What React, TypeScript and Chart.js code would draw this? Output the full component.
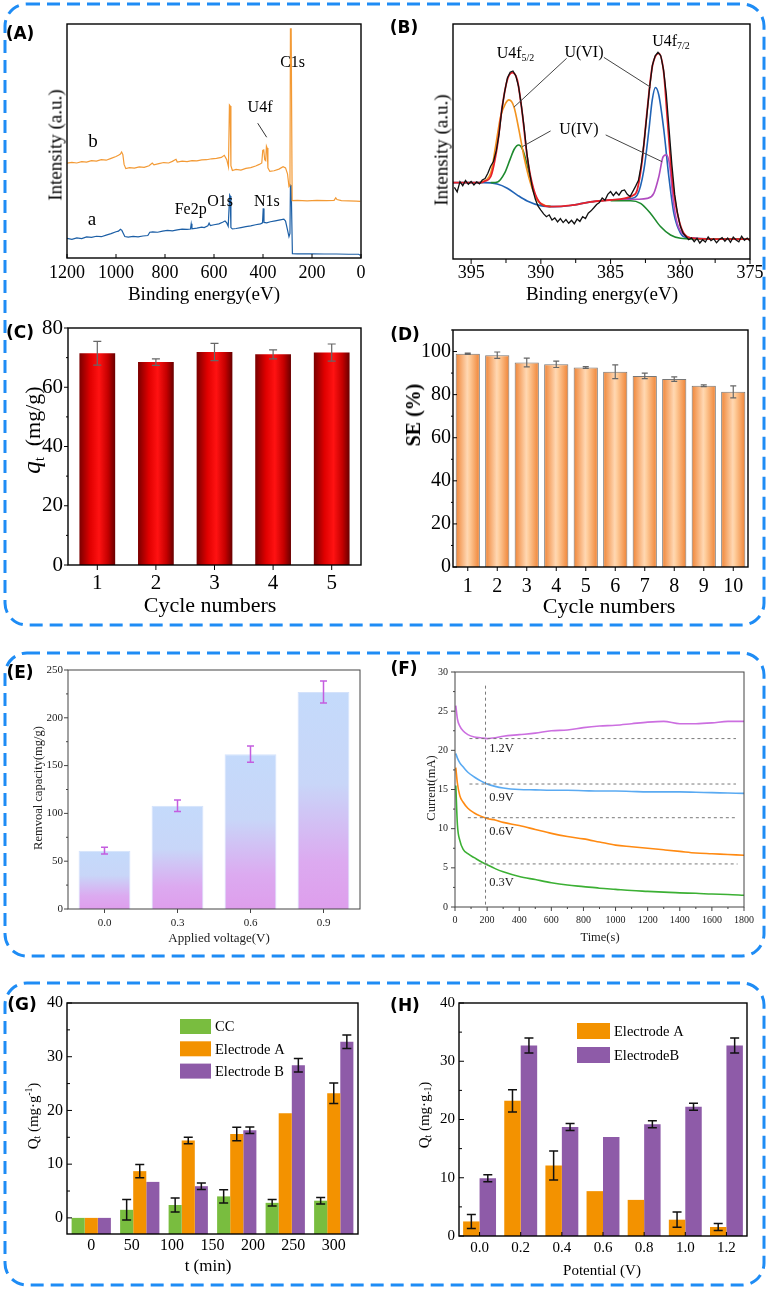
import React, { useEffect, useRef } from 'react';
import { Chart, registerables } from 'chart.js';

Chart.register(...registerables);

const SERIF = '"Liberation Serif", "Times New Roman", serif';
const LABEL_FONT = '"DejaVu Sans", Verdana, sans-serif';

/* ---------------- (A) XPS survey spectra [binding energy eV, intensity a.u.] ---------------- */
const A_SPECTRUM_B: [number, number][] = [
  [1200, 40.5], [1180, 40.9], [1160, 40.6], [1140, 41.2], [1120, 41.0], [1100, 41.6], [1080, 41.4], [1060, 42.0],
  [1040, 41.8], [1020, 42.6], [1000, 43.4], [990, 43.9], [982, 44.4], [977, 45.3], [972, 44.2], [967, 40.0],
  [960, 38.2], [945, 38.6], [925, 38.4], [905, 38.9], [885, 38.7], [865, 39.4], [852, 40.6], [845, 39.8],
  [825, 40.3], [805, 40.8], [785, 40.6], [770, 41.3], [755, 42.2], [750, 41.0], [730, 41.4], [710, 41.2],
  [690, 41.6], [670, 41.5], [650, 41.9], [630, 42.0], [610, 42.4], [590, 42.6], [570, 43.0], [558, 43.9],
  [548, 42.0], [541, 39.0], [537, 65.4], [534, 65.0], [531, 39.5], [525, 37.4], [510, 37.9], [490, 37.6],
  [470, 38.3], [450, 38.6], [430, 39.3], [415, 40.0], [405, 40.6], [401, 46.0], [397, 46.2], [393, 42.0],
  [389, 41.6], [386, 47.8], [383, 47.0], [380, 38.5], [372, 37.0], [355, 37.3], [335, 38.0], [318, 39.0],
  [308, 38.5], [300, 36.0], [294, 30.5], [290, 31.0], [288, 97.9], [285, 97.9], [281, 24.5], [260, 24.6],
  [220, 24.4], [180, 24.6], [140, 24.5], [110, 24.6], [103, 25.7], [98, 25.0], [80, 24.5], [50, 24.4],
  [20, 24.3], [3, 24.2],
];
const A_SPECTRUM_A: [number, number][] = [
  [1200, 8.4], [1180, 8.0], [1160, 8.6], [1140, 8.3], [1120, 9.0], [1100, 8.8], [1080, 9.3], [1060, 9.1],
  [1040, 9.8], [1020, 10.4], [1000, 11.2], [990, 11.5], [982, 12.3], [976, 11.8], [970, 10.5], [964, 9.2],
  [950, 8.9], [930, 9.2], [910, 9.0], [890, 9.4], [870, 9.6], [862, 11.0], [850, 11.2], [830, 11.0],
  [810, 11.5], [790, 11.8], [770, 11.6], [750, 12.0], [730, 12.3], [710, 12.2], [696, 12.4], [693, 14.6],
  [690, 12.5], [670, 12.8], [650, 13.2], [640, 13.0], [625, 13.8], [620, 14.9], [615, 13.9], [600, 14.2],
  [580, 14.6], [565, 15.3], [555, 15.8], [548, 15.0], [542, 13.6], [536, 26.9], [534, 26.5], [531, 13.0],
  [525, 12.4], [510, 12.6], [490, 13.0], [470, 13.4], [450, 13.7], [430, 14.2], [410, 14.6], [402, 15.0],
  [399, 21.2], [396, 15.2], [385, 15.0], [370, 15.5], [350, 15.9], [330, 16.3], [315, 16.6], [308, 15.8],
  [300, 12.0], [294, 9.1], [290, 10.5], [288, 31.2], [285, 31.0], [280, 1.9], [260, 1.8], [200, 1.8],
  [150, 1.7], [100, 1.7], [50, 1.6], [10, 1.6], [3, 1.2],
];

/* ---------------- (B) U4f high resolution [eV, intensity a.u.] ---------------- */
const B_RAW: [number, number][] = [
  [396.2, 30.5], [396.0, 28.6], [395.8, 32.9], [395.6, 31.2], [395.4, 33.4], [395.2, 31.8], [395.0, 33.0],
  [394.8, 31.5], [394.6, 32.8], [394.4, 32.0], [394.2, 33.6], [394.0, 34.2], [393.8, 36.5], [393.6, 39.5],
  [393.4, 41.5], [393.2, 46.0], [393.0, 53.0], [392.8, 63.5], [392.6, 71.0], [392.4, 77.0], [392.2, 79.5],
  [392.0, 80.0], [391.8, 78.0], [391.6, 73.5], [391.4, 65.5], [391.2, 56.0], [391.0, 45.0], [390.8, 36.5],
  [390.6, 30.0], [390.4, 25.5], [390.2, 22.5], [390.0, 20.8], [389.8, 19.2], [389.6, 18.0], [389.4, 18.8],
  [389.2, 16.6], [389.0, 17.5], [388.8, 15.8], [388.6, 17.2], [388.4, 15.5], [388.2, 16.8], [388.0, 15.2],
  [387.8, 16.5], [387.6, 15.0], [387.4, 17.0], [387.2, 16.0], [387.0, 18.0], [386.8, 17.2], [386.6, 19.5],
  [386.4, 20.5], [386.2, 21.8], [386.0, 23.2], [385.8, 24.0], [385.6, 26.0], [385.4, 25.0], [385.2, 27.5],
  [385.0, 28.7], [384.8, 27.0], [384.6, 28.5], [384.4, 27.2], [384.2, 29.0], [384.0, 29.4], [383.8, 27.5],
  [383.6, 26.6], [383.4, 28.8], [383.2, 31.0], [383.0, 33.5], [382.8, 40.0], [382.6, 49.5], [382.4, 61.0],
  [382.2, 73.0], [382.0, 82.5], [381.8, 86.5], [381.6, 88.0], [381.4, 86.5], [381.2, 80.5], [381.0, 70.0],
  [380.8, 55.0], [380.6, 40.0], [380.4, 27.5], [380.2, 19.5], [380.0, 14.0], [379.8, 11.0], [379.6, 9.6],
  [379.4, 8.2], [379.2, 9.0], [379.0, 7.4], [378.8, 8.8], [378.6, 6.8], [378.4, 8.2], [378.2, 7.2],
  [378.0, 9.4], [377.8, 7.8], [377.6, 8.6], [377.4, 6.9], [377.2, 8.3], [377.0, 9.1], [376.8, 7.6],
  [376.6, 8.9], [376.4, 7.1], [376.2, 9.3], [376.0, 8.1], [375.8, 7.3], [375.6, 9.7], [375.4, 8.0],
  [375.2, 8.9], [375.0, 7.6],
];
const B_ENVELOPE: [number, number][] = [
  [396.3, 32.5], [394.3, 32.5], [394.0, 33.2], [393.6, 35.0], [393.13, 47.8], [392.77, 64.8], [392.41, 76.2],
  [392.05, 79.3], [391.69, 76.2], [391.33, 62.0], [390.98, 43.5], [390.5, 29.4], [390.02, 23.7], [389.3, 22.3],
  [387.87, 22.8], [386.44, 24.3], [385.0, 25.1], [384.0, 25.8], [383.4, 27.0], [383.09, 29.4], [382.73, 42.1],
  [382.37, 63.4], [382.01, 81.8], [381.54, 87.5], [381.18, 79.0], [380.94, 60.6], [380.7, 42.1], [380.46, 27.9],
  [380.1, 16.6], [379.74, 10.9], [379.03, 8.8], [377.36, 8.5], [375.0, 8.5],
];
const B_U6_52: [number, number][] = [
  [394.3, 32.5], [393.6, 36.5], [393.25, 47.8], [392.89, 60.6], [392.53, 66.2], [392.29, 67.7], [391.93, 64.8],
  [391.57, 54.9], [391.21, 43.5], [390.74, 32.2], [390.26, 25.1], [389.78, 23.0], [389.3, 22.3],
];
const B_U4_52: [number, number][] = [
  [393.6, 32.5], [393.1, 32.8], [392.6, 36.5], [392.2, 42.5], [391.9, 46.8], [391.6, 48.5], [391.3, 46.5],
  [391.0, 40.5], [390.7, 33.0], [390.4, 27.0], [390.02, 23.5], [389.3, 22.3],
];
const B_U6_72: [number, number][] = [
  [396.3, 32.5], [394.08, 32.5], [393.13, 31.9], [392.41, 30.1], [391.69, 27.2], [390.98, 24.7], [390.02, 22.7],
  [389.06, 22.3], [387.87, 22.8], [386.44, 24.3], [385.0, 25.1], [383.57, 25.7], [383.09, 27.2], [382.61, 37.9],
  [382.25, 54.9], [382.01, 67.7], [381.78, 73.0], [381.54, 69.8], [381.18, 54.9], [380.82, 35.0], [380.46, 19.4],
  [379.98, 10.9], [379.5, 9.1], [377.36, 8.5], [375.0, 8.5],
];
const B_BG_72: [number, number][] = [
  [385.0, 24.8], [383.57, 24.8], [382.85, 23.7], [382.13, 19.4], [381.42, 13.8], [380.7, 10.2], [379.98, 8.8],
  [379.03, 8.5], [375.0, 8.5],
];
const B_U4_72: [number, number][] = [
  [384.52, 25.1], [383.09, 25.4], [382.37, 25.8], [381.9, 27.9], [381.54, 35.0], [381.23, 43.5], [380.99, 44.3],
  [380.75, 39.3], [380.51, 25.1], [380.22, 15.2], [379.74, 10.2], [379.03, 8.8], [378.0, 8.5],
];

/* ---------------- (C) adsorption capacity vs cycle ---------------- */
const C_CYCLES = ['1', '2', '3', '4', '5'];
const C_QT = [71.5, 68.5, 71.9, 71.1, 71.7];
const C_QT_ERR = [4.0, 1.1, 2.9, 1.5, 2.9];

/* ---------------- (D) SE vs cycle ---------------- */
const D_CYCLES = ['1', '2', '3', '4', '5', '6', '7', '8', '9', '10'];
const D_SE = [99.0, 98.3, 94.9, 94.1, 92.6, 90.6, 88.7, 87.2, 84.1, 81.3];
const D_SE_ERR = [0.3, 1.5, 2.0, 1.5, 0.4, 3.2, 1.3, 1.0, 0.4, 2.8];

/* ---------------- (E) removal capacity vs applied voltage ---------------- */
const E_VOLTAGES = ['0.0', '0.3', '0.6', '0.9'];
const E_CAPACITY = [61, 108, 162, 227];
const E_CAPACITY_ERR = [3.5, 6, 8.4, 11.5];

/* ---------------- (F) current vs time ---------------- */
const F_TIME = [5, 15, 30, 50, 80, 120, 160, 200, 250, 300, 400, 500, 600, 700, 800, 900, 1000, 1100, 1200, 1300, 1400, 1500, 1600, 1700, 1800];
const F_I_12V = [25.7, 24.0, 23.1, 22.5, 22.0, 21.7, 21.6, 21.5, 21.6, 21.8, 22.0, 22.2, 22.5, 22.6, 22.9, 23.1, 23.2, 23.4, 23.6, 23.7, 23.4, 23.4, 23.5, 23.7, 23.7];
const F_I_09V = [19.6, 19.0, 18.4, 17.9, 17.2, 16.6, 16.1, 15.7, 15.4, 15.2, 15.0, 14.95, 14.9, 14.9, 14.85, 14.8, 14.8, 14.75, 14.7, 14.7, 14.7, 14.65, 14.6, 14.55, 14.5];
const F_I_06V = [17.8, 15.8, 14.2, 13.4, 12.6, 12.0, 11.6, 11.3, 11.1, 10.8, 10.4, 9.9, 9.4, 9.0, 8.7, 8.3, 7.9, 7.7, 7.5, 7.3, 7.1, 6.9, 6.8, 6.7, 6.6];
const F_I_03V = [15.5, 10.5, 8.5, 7.4, 6.8, 6.3, 5.8, 5.4, 4.9, 4.5, 3.9, 3.5, 3.1, 2.8, 2.6, 2.4, 2.25, 2.1, 2.0, 1.9, 1.8, 1.75, 1.65, 1.6, 1.5];
const F_REF_LEVEL = [21.5, 15.7, 11.4, 5.5];
const F_REF_FROM = [90, 90, 80, 110];
const F_REF_TO = [1750, 1750, 1745, 1760];
const F_VLINE_T = 190;
const F_VLINE_RANGE = [0.3, 28.5];

/* ---------------- (G) Qt vs time ---------------- */
const G_TIME = ['0', '60', '120', '180', '240', '300'];
const G_CC = [0, 1.5, 2.4, 4.0, 2.8, 3.2];
const G_CC_ERR = [0, 1.9, 1.3, 1.25, 0.6, 0.6];
const G_ELECTRODE_A = [0, 8.7, 14.4, 15.6, 19.5, 23.2];
const G_ELECTRODE_A_ERR = [0, 1.25, 0.6, 1.25, 0, 1.9];
const G_ELECTRODE_B = [0, 6.7, 5.9, 16.3, 28.4, 32.8];
const G_ELECTRODE_B_ERR = [0, 0, 0.6, 0.6, 1.25, 1.25];

/* ---------------- (H) Qt vs potential ---------------- */
const H_POTENTIAL = ['0.0', '0.2', '0.4', '0.6', '0.8', '1.0', '1.2'];
const H_ELECTRODE_A = [2.5, 23.2, 12.1, 7.7, 6.2, 2.8, 1.55];
const H_ELECTRODE_A_ERR = [1.2, 1.9, 2.5, 0, 0, 1.3, 0.6];
const H_ELECTRODE_B = [9.9, 32.7, 18.7, 17.0, 19.2, 22.2, 32.7];
const H_ELECTRODE_B_ERR = [0.6, 1.3, 0.6, 0, 0.6, 0.6, 1.3];

/* ---------------- annotations (data coordinates) ---------------- */
type Note = { t: string; sub?: string; x: number; y: number; size: number; align?: 'left' | 'center' };
type Seg = { x1: number; y1: number; x2: number; y2: number };

const A_NOTES: Note[] = [
  { t: 'b', x: 1094, y: 49.6, size: 19 },
  { t: 'a', x: 1098, y: 16.2, size: 19 },
  { t: 'Fe2p', x: 695, y: 20.8, size: 16 },
  { t: 'O1s', x: 575, y: 24.1, size: 16 },
  { t: 'N1s', x: 384, y: 24.1, size: 16 },
  { t: 'U4f', x: 412, y: 64, size: 16 },
  { t: 'C1s', x: 279, y: 83.5, size: 16 },
];
const A_LEADERS: Seg[] = [{ x1: 421.6, y1: 57.6, x2: 384.9, y2: 51.6 }];

const B_NOTES: Note[] = [
  { t: 'U4f', sub: '5/2', x: 391.82, y: 87.5, size: 16 },
  { t: 'U(VI)', x: 386.91, y: 87.9, size: 16 },
  { t: 'U4f', sub: '7/2', x: 380.67, y: 92.6, size: 16 },
  { t: 'U(IV)', x: 387.27, y: 54.9, size: 16 },
];
const B_LEADERS: Seg[] = [
  { x1: 388.15, y1: 85.4, x2: 391.93, y2: 64.6 },
  { x1: 385.48, y1: 85.8, x2: 382.13, y2: 73.1 },
  { x1: 389.3, y1: 54.5, x2: 391.33, y2: 47.8 },
  { x1: 385.35, y1: 52.8, x2: 381.3, y2: 41.4 },
];

const F_NOTES: Note[] = [
  { t: '1.2V', x: 213, y: 20.2, size: 12.5, align: 'left' },
  { t: '0.9V', x: 213, y: 14.0, size: 12.5, align: 'left' },
  { t: '0.6V', x: 213, y: 9.6, size: 12.5, align: 'left' },
  { t: '0.3V', x: 213, y: 3.1, size: 12.5, align: 'left' },
];

/* ---------------- layout helpers ---------------- */
type Box = [number, number, number, number]; // left, top, width, height (page px)
type Area = [number, number, number, number]; // plot area left, top, right, bottom (page px)

function fit(box: Box, area: Area) {
  const [bl, bt, bw, bh] = box;
  const [al, at, ar, ab] = area;
  return {
    padding: { left: 0, top: at - bt, right: bl + bw - ar, bottom: 0 },
    yW: al - bl,
    xH: bt + bh - ab,
  };
}

function opts(f: any, scales: any) {
  const out: any = {};
  Object.keys(scales).forEach((k) => {
    const horiz = k.startsWith('x');
    const cfg: any = {
      grid: { display: false, drawTicks: false },
      border: { display: false },
      ...scales[k],
    };
    if (cfg.display !== false) {
      cfg.afterFit = horiz ? (s: any) => { s.height = f.xH; } : (s: any) => { s.width = f.yW; };
    }
    out[k] = cfg;
  });
  return {
    animation: false,
    responsive: false,
    events: [],
    layout: { padding: f.padding },
    plugins: { legend: { display: false }, tooltip: { enabled: false } },
    scales: out,
  };
}

const tickFont = (size: number, color = '#000', padding = 3) => ({
  font: { family: SERIF, size },
  color,
  padding,
  autoSkip: false,
  maxRotation: 0,
});

const numTicks = (size: number, color: string, padding: number, stepSize: number) => ({
  ...tickFont(size, color, padding),
  stepSize,
  includeBounds: false,
  callback: (v: any) => String(Math.round(Number(v) * 1000) / 1000),
});

const keepSteps = (step: number, lo: number, hi: number) => (s: any) => {
  s.ticks = s.ticks.filter((t: any) => {
    const r = t.value / step;
    return Math.abs(r - Math.round(r)) < 1e-6 && t.value >= lo - 1e-9 && t.value <= hi + 1e-9;
  });
};

function line(pts: [number, number][], color: string, width: number, smooth: boolean) {
  return {
    data: pts.map(([x, y]) => ({ x, y })),
    borderColor: color,
    backgroundColor: color,
    borderWidth: width,
    pointRadius: 0,
    fill: false,
    tension: smooth ? 0.4 : 0,
    cubicInterpolationMode: smooth ? 'monotone' : 'default',
  };
}

/* ---------------- plugins ---------------- */
function framePlugin(color: string, width: number) {
  return {
    id: 'frame',
    afterDatasetsDraw(chart: any) {
      const { ctx, chartArea: a } = chart;
      ctx.save();
      ctx.strokeStyle = color;
      ctx.lineWidth = width;
      ctx.strokeRect(a.left, a.top, a.right - a.left, a.bottom - a.top);
      ctx.restore();
    },
  };
}

type TickSpec = { scale: string; major: number; dir: 'in' | 'out'; minorStep?: number; minor?: number; minorDir?: 'in' | 'out' };
function tickPlugin(specs: TickSpec[], color = '#000') {
  return {
    id: 'tickMarks',
    afterDatasetsDraw(chart: any) {
      const { ctx, chartArea: a } = chart;
      ctx.save();
      ctx.strokeStyle = color;
      ctx.lineWidth = 1;
      specs.forEach((sp) => {
        const sc = chart.scales[sp.scale];
        if (!sc) return;
        const horiz = sc.isHorizontal();
        const draw = (p: number, len: number, dir: 'in' | 'out') => {
          const sgn = dir === 'out' ? 1 : -1;
          ctx.beginPath();
          if (horiz) { ctx.moveTo(p, a.bottom); ctx.lineTo(p, a.bottom + sgn * len); }
          else { ctx.moveTo(a.left, p); ctx.lineTo(a.left - sgn * len, p); }
          ctx.stroke();
        };
        const majors = sc.ticks.map((_: any, i: number) => sc.getPixelForTick(i));
        majors.forEach((p: number) => draw(p, sp.major, sp.dir));
        if (sp.minorStep) {
          for (let v = Math.ceil(sc.min / sp.minorStep) * sp.minorStep; v <= sc.max + 1e-9; v += sp.minorStep) {
            const p = sc.getPixelForValue(v);
            if (majors.some((m: number) => Math.abs(m - p) < 0.6)) continue;
            draw(p, sp.minor || 2, sp.minorDir || sp.dir);
          }
        }
      });
      ctx.restore();
    },
  };
}

function errorPlugin(color: string, width: number, cap: number) {
  return {
    id: 'errorBars',
    afterDatasetsDraw(chart: any) {
      const { ctx } = chart;
      const ys = chart.scales.y;
      ctx.save();
      ctx.strokeStyle = color;
      ctx.lineWidth = width;
      chart.data.datasets.forEach((ds: any, i: number) => {
        if (!ds.errors) return;
        const meta = chart.getDatasetMeta(i);
        meta.data.forEach((el: any, j: number) => {
          const e = ds.errors[j];
          if (!e) return;
          const v = ds.data[j];
          const yt = ys.getPixelForValue(v + e);
          const yb = ys.getPixelForValue(v - e);
          const x = el.x;
          ctx.beginPath();
          ctx.moveTo(x, yt); ctx.lineTo(x, yb);
          ctx.moveTo(x - cap / 2, yt); ctx.lineTo(x + cap / 2, yt);
          ctx.moveTo(x - cap / 2, yb); ctx.lineTo(x + cap / 2, yb);
          ctx.stroke();
        });
      });
      ctx.restore();
    },
  };
}

function notePlugin(notes: Note[], segs: Seg[], color = '#000', segColor = '#333') {
  return {
    id: 'notes',
    afterDatasetsDraw(chart: any) {
      const { ctx } = chart;
      const xs = chart.scales.x;
      const ys = chart.scales.y;
      ctx.save();
      ctx.strokeStyle = segColor;
      ctx.lineWidth = 1;
      segs.forEach((s) => {
        ctx.beginPath();
        ctx.moveTo(xs.getPixelForValue(s.x1), ys.getPixelForValue(s.y1));
        ctx.lineTo(xs.getPixelForValue(s.x2), ys.getPixelForValue(s.y2));
        ctx.stroke();
      });
      ctx.fillStyle = color;
      ctx.textBaseline = 'middle';
      ctx.textAlign = 'left';
      notes.forEach((n) => {
        const px = xs.getPixelForValue(n.x);
        const py = ys.getPixelForValue(n.y);
        const main = `${n.size}px ${SERIF}`;
        const subF = `${n.size * 0.62}px ${SERIF}`;
        ctx.font = main;
        const w1 = ctx.measureText(n.t).width;
        let w2 = 0;
        if (n.sub) { ctx.font = subF; w2 = ctx.measureText(n.sub).width; }
        const x0 = n.align === 'left' ? px : px - (w1 + w2) / 2;
        ctx.font = main;
        ctx.fillText(n.t, x0, py);
        if (n.sub) { ctx.font = subF; ctx.fillText(n.sub, x0 + w1, py + n.size * 0.3); }
      });
      ctx.restore();
    },
  };
}

function legendPlugin(dx: number, dy: number, gap: number, bw: number, bh: number, size: number) {
  return {
    id: 'boxLegend',
    afterDatasetsDraw(chart: any) {
      const { ctx, chartArea: a } = chart;
      ctx.save();
      chart.data.datasets.forEach((ds: any, i: number) => {
        const cy = a.top + dy + i * gap;
        const x = a.left + dx;
        ctx.fillStyle = ds.backgroundColor;
        ctx.fillRect(x, cy - bh / 2, bw, bh);
        ctx.fillStyle = '#000';
        ctx.font = `${size}px ${SERIF}`;
        ctx.textBaseline = 'middle';
        ctx.textAlign = 'left';
        ctx.fillText(ds.label, x + bw + 4, cy + 1);
      });
      ctx.restore();
    },
  };
}

function hGrad(stops: [number, string][], frac: number) {
  return (c: any) => {
    const ch = c.chart;
    if (!ch.chartArea || c.type !== 'data') return stops[1][1];
    const xs = ch.scales.x;
    const n = ch.data.labels.length;
    const cx = xs.getPixelForValue(c.dataIndex);
    const w = (xs.width / n) * frac;
    const g = ch.ctx.createLinearGradient(cx - w / 2, 0, cx + w / 2, 0);
    stops.forEach(([o, col]) => g.addColorStop(o, col));
    return g;
  };
}

function vGrad(stops: [number, string][]) {
  return (c: any) => {
    const ch = c.chart;
    if (!ch.chartArea || c.type !== 'data') return stops[0][1];
    const ys = ch.scales.y;
    const top = ys.getPixelForValue(c.raw);
    const bot = ys.getPixelForValue(ys.min);
    const g = ch.ctx.createLinearGradient(0, top, 0, bot + 0.01);
    stops.forEach(([o, col]) => g.addColorStop(o, col));
    return g;
  };
}

/* ---------------- panel builders ---------------- */
const BOX_A: Box = [30, 8, 350, 302];
const AREA_A: Area = [67, 24, 361, 258];
function makeA() {
  const f = fit(BOX_A, AREA_A);
  return {
    type: 'line',
    data: { datasets: [line(A_SPECTRUM_B, '#f39a35', 1.2, false), line(A_SPECTRUM_A, '#1c5fa6', 1.2, false)] },
    options: opts(f, {
      x: { type: 'linear', reverse: true, min: 0, max: 1200, ticks: numTicks(18, '#000', 4, 200) },
      y: { type: 'linear', min: 0, max: 100, ticks: { display: false } },
    }),
    plugins: [framePlugin('#000', 1.4), tickPlugin([{ scale: 'x', major: 4, dir: 'in' }]), notePlugin(A_NOTES, A_LEADERS)],
  };
}

const BOX_B: Box = [415, 8, 353, 302];
const AREA_B: Area = [453, 24, 750, 259];
function makeB() {
  const f = fit(BOX_B, AREA_B);
  return {
    type: 'line',
    data: {
      datasets: [
        line(B_RAW, '#111111', 1.3, false),
        line(B_ENVELOPE, '#e8202a', 1.8, true),
        line(B_U6_52, '#f2931f', 1.6, true),
        line(B_U4_52, '#1d8a2e', 1.6, true),
        line(B_BG_72, '#1d8a2e', 1.6, true),
        line(B_U4_72, '#b04cc0', 1.6, true),
        line(B_U6_72, '#2063b5', 1.6, true),
      ],
    },
    options: opts(f, {
      x: { type: 'linear', reverse: true, min: 375, max: 396.3, afterBuildTicks: keepSteps(5, 375, 395), ticks: numTicks(18, '#000', 3, 5) },
      y: { type: 'linear', min: 0, max: 100, ticks: { display: false } },
    }),
    plugins: [framePlugin('#000', 1.4), tickPlugin([{ scale: 'x', major: 5, dir: 'out', minorStep: 2.5, minor: 4 }]), notePlugin(B_NOTES, B_LEADERS, '#000', '#444')],
  };
}

const BOX_C: Box = [15, 310, 365, 290];
const AREA_C: Area = [68, 328, 361, 565];
function makeC() {
  const f = fit(BOX_C, AREA_C);
  return {
    type: 'bar',
    data: {
      labels: C_CYCLES,
      datasets: [{
        data: C_QT,
        errors: C_QT_ERR,
        backgroundColor: hGrad([[0, '#7a0000'], [0.3, '#e00000'], [0.55, '#ff1212'], [0.8, '#c40000'], [1, '#680000']], 0.61),
        barPercentage: 0.61,
        categoryPercentage: 1,
      }],
    },
    options: opts(f, {
      x: { type: 'category', ticks: tickFont(21, '#000', 6) },
      y: { type: 'linear', min: 0, max: 80, ticks: numTicks(21, '#000', 5, 20) },
    }),
    plugins: [
      errorPlugin('#666', 1.2, 8),
      framePlugin('#000', 1.4),
      tickPlugin([{ scale: 'x', major: 5, dir: 'out' }, { scale: 'y', major: 4, dir: 'out', minorStep: 10, minor: 2 }]),
    ],
  };
}

const BOX_D: Box = [400, 310, 368, 290];
const AREA_D: Area = [453, 330, 748, 567];
function makeD() {
  const f = fit(BOX_D, AREA_D);
  return {
    type: 'bar',
    data: {
      labels: D_CYCLES,
      datasets: [{
        data: D_SE,
        errors: D_SE_ERR,
        backgroundColor: hGrad([[0, '#ef8436'], [0.48, '#ffd7b2'], [0.56, '#ffcf9f'], [1, '#ef8234']], 0.82),
        borderColor: '#777',
        borderWidth: 1,
        barPercentage: 0.82,
        categoryPercentage: 1,
      }],
    },
    options: opts(f, {
      x: { type: 'category', ticks: tickFont(20, '#000', 8) },
      y: { type: 'linear', min: 0, max: 110, afterBuildTicks: keepSteps(20, 0, 100), ticks: numTicks(20, '#000', 2, 20) },
    }),
    plugins: [
      errorPlugin('#666', 1.2, 6),
      framePlugin('#000', 1.4),
      tickPlugin([{ scale: 'x', major: 4, dir: 'out' }, { scale: 'y', major: 4, dir: 'in', minorStep: 10, minor: 2, minorDir: 'out' }]),
    ],
  };
}

const BOX_E: Box = [25, 658, 355, 272];
const AREA_E: Area = [68, 670, 360, 909];
function makeE() {
  const f = fit(BOX_E, AREA_E);
  return {
    type: 'bar',
    data: {
      labels: E_VOLTAGES,
      datasets: [{
        data: E_CAPACITY,
        errors: E_CAPACITY_ERR,
        backgroundColor: vGrad([[0, '#c4dafb'], [0.42, '#c8d6f8'], [0.78, '#dcaaf0'], [1, '#de9eec']]),
        borderColor: '#d4e2fb',
        borderWidth: 1,
        barPercentage: 0.71,
        categoryPercentage: 1,
      }],
    },
    options: opts(f, {
      x: { type: 'category', ticks: tickFont(11, '#222', 8) },
      y: { type: 'linear', min: 0, max: 250, ticks: numTicks(11, '#222', 5, 50) },
    }),
    plugins: [
      errorPlugin('#c45ddf', 1.5, 7),
      framePlugin('#444', 1),
      tickPlugin([{ scale: 'x', major: 4, dir: 'out' }, { scale: 'y', major: 4, dir: 'out', minorStep: 25, minor: 2 }], '#444'),
    ],
  };
}

const BOX_F: Box = [415, 658, 350, 272];
const AREA_F: Area = [455, 672, 744, 907];
function makeF() {
  const f = fit(BOX_F, AREA_F);
  const series = (vals: number[]) => F_TIME.map((t, i) => [t, vals[i]] as [number, number]);
  const dashed = (pts: [number, number][]) => ({ ...line(pts, '#7a7a7a', 1, false), borderDash: [3, 3] });
  return {
    type: 'line',
    data: {
      datasets: [
        ...F_REF_LEVEL.map((lvl, i) => dashed([[F_REF_FROM[i], lvl], [F_REF_TO[i], lvl]])),
        dashed([[F_VLINE_T, F_VLINE_RANGE[0]], [F_VLINE_T, F_VLINE_RANGE[1]]]),
        line(series(F_I_12V), '#cc6fe0', 1.6, true),
        line(series(F_I_09V), '#5aaaf2', 1.6, true),
        line(series(F_I_06V), '#ff8a12', 1.6, true),
        line(series(F_I_03V), '#3cb034', 1.6, true),
      ],
    },
    options: opts(f, {
      x: { type: 'linear', min: 0, max: 1800, ticks: numTicks(10, '#222', 7, 200) },
      y: { type: 'linear', min: 0, max: 30, ticks: numTicks(10, '#222', 7, 5) },
    }),
    plugins: [
      framePlugin('#444', 1),
      tickPlugin([{ scale: 'x', major: 4, dir: 'out', minorStep: 100, minor: 2 }, { scale: 'y', major: 4, dir: 'out', minorStep: 2.5, minor: 2 }], '#444'),
      notePlugin(F_NOTES, [], '#222'),
    ],
  };
}

const BOX_G: Box = [20, 988, 360, 272];
const AREA_G: Area = [67, 1003, 358, 1234];
function makeG() {
  const f = fit(BOX_G, AREA_G);
  const bar = (label: string, data: number[], errors: number[], color: string) => ({
    label, data, errors, backgroundColor: color, base: -3, barPercentage: 1, categoryPercentage: 0.81,
  });
  return {
    type: 'bar',
    data: {
      labels: G_TIME,
      datasets: [
        bar('CC', G_CC, G_CC_ERR, '#79bd3f'),
        bar('Electrode A', G_ELECTRODE_A, G_ELECTRODE_A_ERR, '#f39200'),
        bar('Electrode B', G_ELECTRODE_B, G_ELECTRODE_B_ERR, '#8e5ba8'),
      ],
    },
    options: opts(f, {
      x: { type: 'category', display: false },
      x2: { type: 'linear', position: 'bottom', offset: false, min: -30, max: 330, afterBuildTicks: keepSteps(50, 0, 300), ticks: numTicks(16, '#000', 2, 50) },
      y: { type: 'linear', min: -3, max: 40, afterBuildTicks: keepSteps(10, 0, 40), ticks: numTicks(16, '#000', 4, 10) },
    }),
    plugins: [
      errorPlugin('#111', 1.5, 9),
      framePlugin('#000', 1.4),
      tickPlugin([{ scale: 'y', major: 5, dir: 'in', minorStep: 5, minor: 3 }]),
      legendPlugin(113, 23.5, 22.3, 31, 15, 14.5),
    ],
  };
}

const BOX_H: Box = [415, 988, 350, 272];
const AREA_H: Area = [459, 1003, 747, 1236];
function makeH() {
  const f = fit(BOX_H, AREA_H);
  const bar = (label: string, data: number[], errors: number[], color: string) => ({
    label, data, errors, backgroundColor: color, barPercentage: 1, categoryPercentage: 0.8,
  });
  return {
    type: 'bar',
    data: {
      labels: H_POTENTIAL,
      datasets: [
        bar('Electrode A', H_ELECTRODE_A, H_ELECTRODE_A_ERR, '#f39200'),
        bar('ElectrodeB', H_ELECTRODE_B, H_ELECTRODE_B_ERR, '#8e5ba8'),
      ],
    },
    options: opts(f, {
      x: { type: 'category', ticks: tickFont(15, '#000', 3) },
      y: { type: 'linear', min: 0, max: 40, ticks: numTicks(15, '#000', 4, 10) },
    }),
    plugins: [
      errorPlugin('#111', 1.5, 9),
      framePlugin('#000', 1.4),
      tickPlugin([{ scale: 'x', major: 4, dir: 'in' }, { scale: 'y', major: 5, dir: 'in', minorStep: 5, minor: 3 }]),
      legendPlugin(118, 28, 24, 33, 16, 14.5),
    ],
  };
}

/* ---------------- components ---------------- */
function ChartPanel({ box, make }: { box: Box; make: () => any }) {
  const ref = useRef<HTMLCanvasElement | null>(null);
  useEffect(() => {
    if (!ref.current) return;
    const chart = new Chart(ref.current, make());
    return () => chart.destroy();
  }, []);
  return (
    <canvas
      ref={ref}
      width={box[2]}
      height={box[3]}
      style={{ position: 'absolute', left: box[0], top: box[1], width: box[2], height: box[3] }}
    />
  );
}

function Txt({ x, y, size, rot, children, family, bold, color }: any) {
  return (
    <div
      style={{
        position: 'absolute',
        left: x,
        top: y,
        transform: `translate(-50%, -50%)${rot ? ' rotate(-90deg)' : ''}`,
        fontFamily: family || SERIF,
        fontSize: size,
        fontWeight: bold ? 700 : 400,
        whiteSpace: 'nowrap',
        lineHeight: 1,
        color: color || '#000',
      }}
    >
      {children}
    </div>
  );
}

const subStyle: any = { fontSize: '0.62em', verticalAlign: '-0.3em', lineHeight: 0 };
const supStyle: any = { fontSize: '0.62em', verticalAlign: '0.55em', lineHeight: 0 };

export default function App() {
  const dash = { fill: 'none', stroke: '#1e8cf5', strokeWidth: 3, strokeDasharray: '13 7' };
  return (
    <div style={{ position: 'absolute', left: 0, top: 0, width: 768, height: 1290, background: '#fff', overflow: 'hidden' }}>
      <svg width={768} height={1290} style={{ position: 'absolute', left: 0, top: 0 }}>
        <rect x={5} y={4} width={759} height={621} rx={22} {...dash} />
        <rect x={5} y={653} width={759} height={303} rx={22} {...dash} />
        <rect x={5} y={983} width={759} height={302} rx={22} {...dash} />
      </svg>

      <ChartPanel box={BOX_A} make={makeA} />
      <ChartPanel box={BOX_B} make={makeB} />
      <ChartPanel box={BOX_C} make={makeC} />
      <ChartPanel box={BOX_D} make={makeD} />
      <ChartPanel box={BOX_E} make={makeE} />
      <ChartPanel box={BOX_F} make={makeF} />
      <ChartPanel box={BOX_G} make={makeG} />
      <ChartPanel box={BOX_H} make={makeH} />

      {/* panel letters */}
      <Txt x={20} y={33} size={17} family={LABEL_FONT} bold>(A)</Txt>
      <Txt x={404} y={27} size={17} family={LABEL_FONT} bold>(B)</Txt>
      <Txt x={20} y={332} size={17} family={LABEL_FONT} bold>(C)</Txt>
      <Txt x={405} y={334} size={17} family={LABEL_FONT} bold>(D)</Txt>
      <Txt x={20} y={672} size={17} family={LABEL_FONT} bold>(E)</Txt>
      <Txt x={404} y={668} size={17} family={LABEL_FONT} bold>(F)</Txt>
      <Txt x={22} y={1004} size={17} family={LABEL_FONT} bold>(G)</Txt>
      <Txt x={405} y={1005} size={17} family={LABEL_FONT} bold>(H)</Txt>

      {/* axis titles */}
      <Txt x={204} y={293} size={19}>Binding energy(eV)</Txt>
      <Txt x={55} y={145} size={19} rot>Intensity (a.u.)</Txt>
      <Txt x={602} y={293} size={19}>Binding energy(eV)</Txt>
      <Txt x={441} y={150} size={19} rot>Intensity (a.u.)</Txt>

      <Txt x={210} y={605} size={22}>Cycle numbers</Txt>
      <Txt x={32} y={430} size={22} rot>
        <i style={{ fontSize: '1.15em' }}>q</i><span style={subStyle}>t</span>&nbsp;&nbsp;(mg/g)
      </Txt>
      <Txt x={609} y={606} size={22}>Cycle numbers</Txt>
      <Txt x={413} y={415} size={20} rot bold>SE (%)</Txt>

      <Txt x={219} y={937} size={13} color="#222">Applied voltage(V)</Txt>
      <Txt x={38} y={788} size={12.5} rot color="#222">Remvoal capacity(mg/g)</Txt>
      <Txt x={600} y={937} size={12.5} color="#222">Time(s)</Txt>
      <Txt x={431} y={788} size={12.5} rot color="#222">Current(mA)</Txt>

      <Txt x={208} y={1265} size={17}>t (min)</Txt>
      <Txt x={33} y={1116} size={15} rot>
        Q<span style={subStyle}>t</span> (mg·g<span style={supStyle}>-1</span>)
      </Txt>
      <Txt x={602} y={1270} size={15}>Potential (V)</Txt>
      <Txt x={424} y={1115} size={15} rot>
        Q<span style={subStyle}>t</span> (mg·g<span style={subStyle}>-1</span>)
      </Txt>
    </div>
  );
}
